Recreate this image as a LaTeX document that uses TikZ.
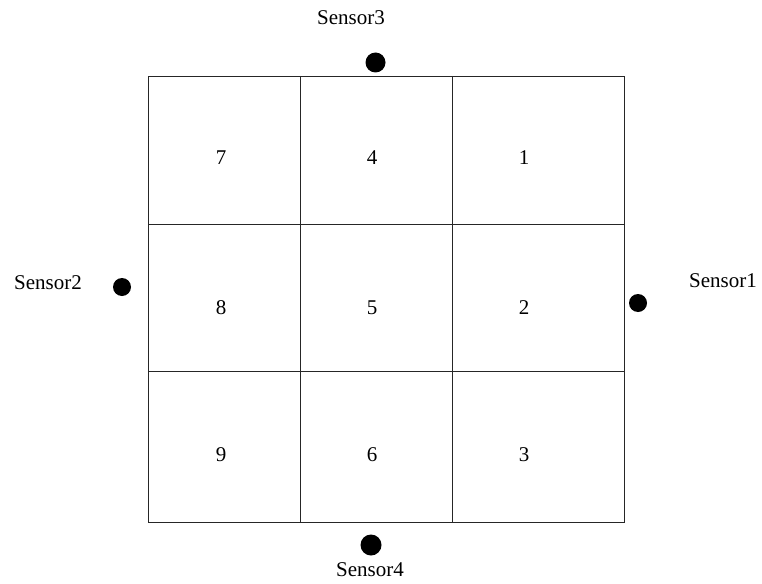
\documentclass[tikz,border=0pt]{standalone}
\usepackage{fontspec}
\setmainfont{Liberation Serif}
\begin{document}
\begin{tikzpicture}[x=1pt,y=-1pt,
  gridline/.style={draw=black!85,line width=0.9pt},
  num/.style={font=\fontsize{21}{25}\selectfont,inner sep=0pt},
  lab/.style={font=\fontsize{21}{25}\selectfont,inner sep=0pt},
  dot/.style={circle,fill=black,inner sep=0pt}]
\useasboundingbox (0,0) rectangle (762,583);
\draw[gridline] (148,76) rectangle (624,522);
\draw[gridline] (300,76) -- (300,522);
\draw[gridline] (452,76) -- (452,522);
\draw[gridline] (148,224) -- (624,224);
\draw[gridline] (148,371) -- (624,371);
\node[num] (c7) at (221,158) {7};
\node[num] (c4) at (372,158) {4};
\node[num] (c1) at (524,158) {1};
\node[num] (c8) at (221,308) {8};
\node[num] (c5) at (372,308) {5};
\node[num] (c2) at (524,308) {2};
\node[num] (c9) at (221,455) {9};
\node[num] (c6) at (372,455) {6};
\node[num] (c3) at (524,455) {3};
\node[dot,minimum size=18pt] (d1) at (638,303) {};
\node[dot,minimum size=18pt] (d2) at (122,287) {};
\node[dot,minimum size=20pt] (d3) at (375.5,62.5) {};
\node[dot,minimum size=21pt] (d4) at (371,545) {};
\node[lab] (s1) at (723,281) {Sensor1};
\node[lab] (s2) at (48,283) {Sensor2};
\node[lab] (s3) at (351,18) {Sensor3};
\node[lab] (s4) at (370,570) {Sensor4};
\end{tikzpicture}
\end{document}
